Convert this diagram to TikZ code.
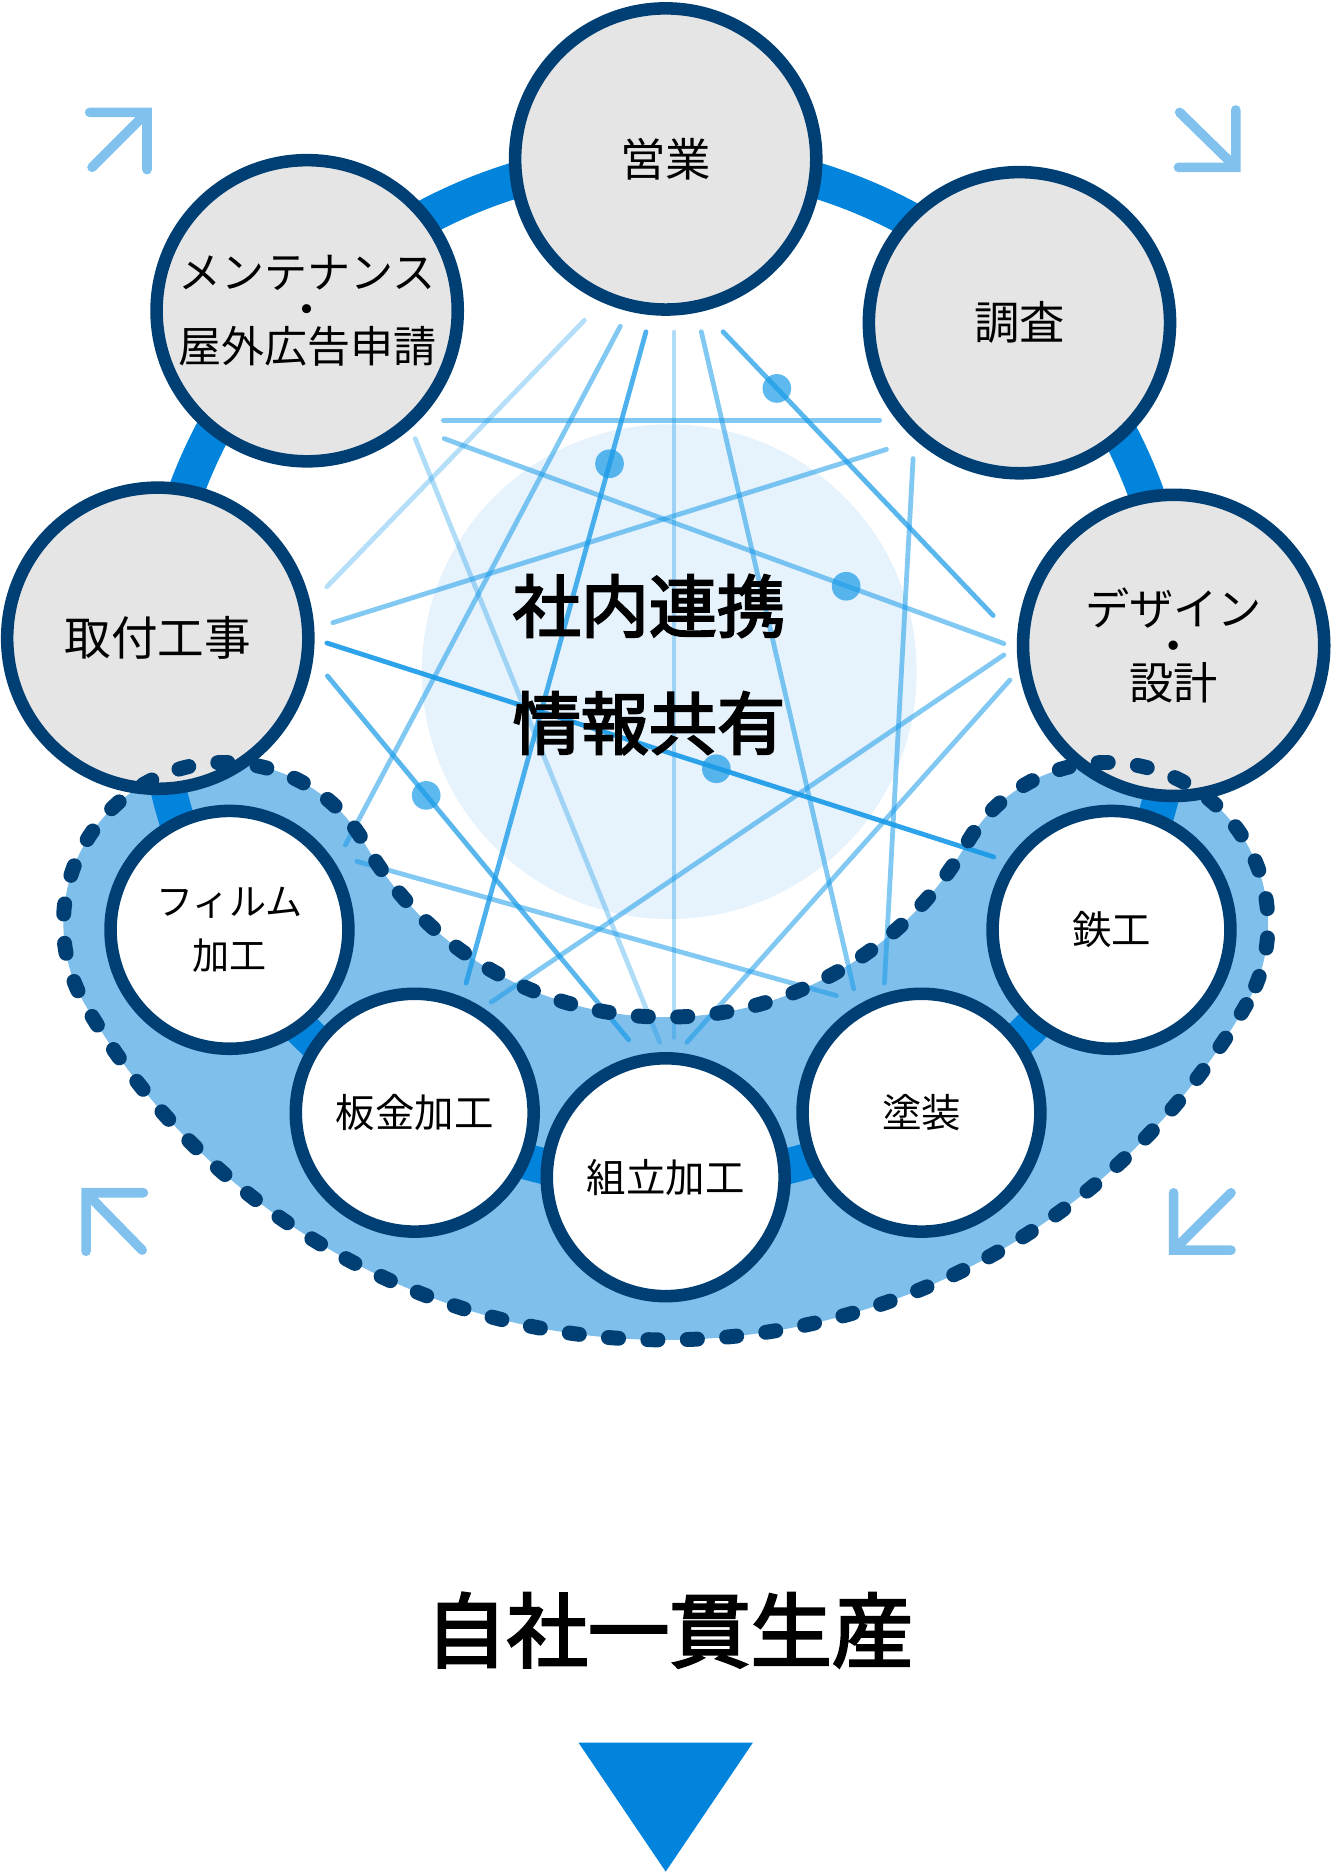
\documentclass[tikz,border=0pt]{standalone}
\usepackage{fontspec}
\usepackage{xcolor}
\usetikzlibrary{positioning}
\newfontfamily\jpfont{Noto Sans CJK JP}
\newfontfamily\jpmid{Noto Sans CJK JP}[FakeBold=3]
\definecolor{navy}{HTML}{003F73}
\definecolor{ringblue}{HTML}{0284DD}
\definecolor{zonefill}{HTML}{7FBFEC}
\definecolor{hubfill}{HTML}{E6F2FC}
\definecolor{linkblue}{HTML}{1A9BE8}
\definecolor{cycleblue}{HTML}{80C1EE}
\definecolor{circgray}{HTML}{E5E5E5}
\tikzset{
  dept/.style={circle, draw=navy, fill=circgray, line width=10.5pt,
               minimum size=252pt, inner sep=0pt, align=center,
               font=\jpfont\fontsize{38}{31}\selectfont},
  shop/.style={circle, draw=navy, fill=white, line width=10.5pt,
               minimum size=199pt, inner sep=0pt, align=center,
               font=\jpfont\fontsize{33}{45}\selectfont},
  link/.style={draw=linkblue, line width=4pt, line cap=round},
  linkdot/.style={circle, fill=linkblue, fill opacity=0.7, minimum size=24pt, inner sep=0pt},
  cyclearrow/.style={draw=cycleblue, line width=8pt, line cap=round, line join=miter},
  zoneedge/.style={draw=navy, line width=12.5pt, line cap=round,
                   dash pattern=on 8.5pt off 24.5pt},
}
% crescent round the workshop circles
\newcommand{\zoneshape}{([shift={(30:561)}]hub)
  arc[start angle=30, end angle=150, radius=561]
  arc[start angle=150, end angle=330, radius=135]
  arc[start angle=150, end angle=30, radius=291]
  arc[start angle=210, end angle=390, radius=135] -- cycle}

\begin{document}
\begin{tikzpicture}[x=1pt, y=-1pt,
  big/.style={font=\jpmid\fontsize{57}{98}\selectfont, align=center},
]
  \useasboundingbox (0,0) rectangle (1115,1568);
  \coordinate (hub) at (557,560);

  \fill[hubfill] (560,562) circle[radius=207];
  \fill[zonefill] \zoneshape;
  \draw[ringblue, line width=30pt] (hub) circle[radius=428];

  % office side
  \node[dept] (sales) at (557,133) {営業};
  \node[dept, font=\jpfont\fontsize{36}{31}\selectfont] (maint) at (257,260)
    {メンテナンス\\・\\屋外広告申請};
  \node[dept] (survey) at (853,270) {調査};
  \node[dept, font=\jpfont\fontsize{37}{31}\selectfont] (design) at (982,540)
    {デザイン\\・\\設計};
  \node[dept, font=\jpfont\fontsize{39}{31}\selectfont] (install) at (132,534) {取付工事};

  % workshop side
  \node[shop, font=\jpfont\fontsize{31}{45}\selectfont] (film) at (192,778) {フィルム\\加工};
  \node[shop] (sheet) at (347,931) {板金加工};
  \node[shop] (assy) at (557,985) {組立加工};
  \node[shop] (paint) at (771,931) {塗装};
  \node[shop] (iron) at (930,778) {鉄工};

  % information links
  \foreach \n/\xa/\ya/\xb/\yb/\op in {
      1/489/268/273.5/491/0.32,
      2/519/273/289/707/0.55,
      3/540.5/277.6/390/822.6/0.78,
      4/564/278/564/868/0.35,
      5/586.8/277.6/714.3/827.3/0.55,
      6/605/277.6/831/515/0.72,
      7/371/351.6/736/351.6/0.55,
      8/371.7/367/840/538.5/0.55,
      9/278.5/521/741.7/376/0.55,
      10/273.5/538/831.5/717/0.92,
      11/274/565.6/526/870/0.72,
      12/347.4/367/552/872/0.35,
      13/298.6/720.7/699.8/833/0.55,
      14/411/838.5/840/548/0.55,
      15/574.8/872/845/569/0.55,
      16/764/383.7/740/822.6/0.55}{
    \coordinate (l\n a) at (\xa,\ya);
    \coordinate (l\n b) at (\xb,\yb);
    \draw[link, draw opacity=\op] (l\n a) -- (l\n b);
  }
  \foreach \x/\y [count=\i] in {510/388, 650/325, 708/490.5, 599.4/643.2, 356.6/665.5}
    \node[linkdot] (dot\i) at (\x,\y) {};

  \draw[zoneedge] \zoneshape;

  \node[big] (share) at (543,556) {社内連携\\情報共有};

  % cycle arrows
  \draw[cyclearrow] (77,140) -- (123,94) (75,94) -- (123,94) -- (123,142);
  \draw[cyclearrow] (987,94) -- (1034,140) (1034,92) -- (1034,140) -- (986,140);
  \draw[cyclearrow] (119,1046) -- (72,998) (120,998) -- (72,998) -- (72,1047);
  \draw[cyclearrow] (1030,998) -- (982,1046) (982,998) -- (982,1046) -- (1030,1046);

  \node[font=\jpmid\fontsize{68}{68}\selectfont] (title) at (560,1364) {自社一貫生産};
  \fill[ringblue] (484,1458) -- (630,1458) -- (557,1566) -- cycle;
\end{tikzpicture}
\end{document}
